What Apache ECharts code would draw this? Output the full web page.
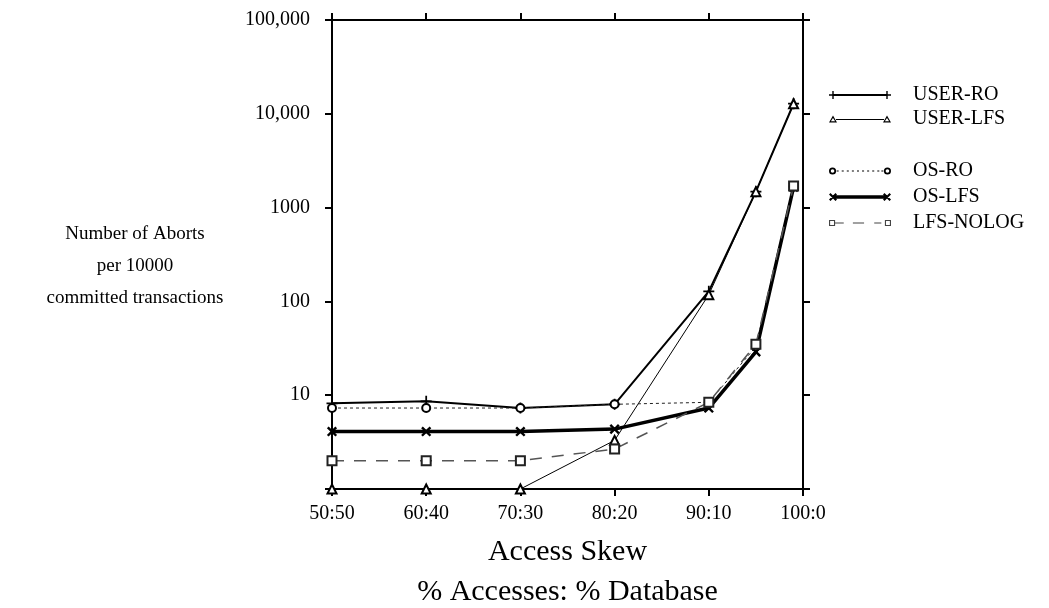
<!DOCTYPE html>
<html>
<head>
<meta charset="utf-8">
<script src="https://cdn.jsdelivr.net/npm/echarts@6/dist/echarts.min.js"></script>
<style>
html,body{margin:0;padding:0;background:#fff;overflow:hidden;}
#chart{width:1049px;height:608px;}
</style>
</head>
<body>
<div id="chart"></div>
<script>
// ---- data ----
var xValues = [50, 60, 70, 80, 90, 95, 99];
var xTickValues = [50, 60, 70, 80, 90, 100];
var xTickLabels = ['50:50', '60:40', '70:30', '80:20', '90:10', '100:0'];
var yTickValues = [1, 10, 100, 1000, 10000, 100000];
var yTickLabels = ['', '10', '100', '1000', '10,000', '100,000'];

var seriesNames = ['USER-RO', 'USER-LFS', 'OS-RO', 'OS-LFS', 'LFS-NOLOG'];
var userRO   = [8.2, 8.6, 7.3, 8.0, 128, 1480, 12800];
var userLFS  = [1, 1, 1, 3.3, 118, 1480, 12800];
var osRO     = [7.3, 7.3, 7.3, 8.0, 8.4, 33, 1670];
var osLFS    = [4.1, 4.1, 4.1, 4.35, 7.3, 29, 1650];
var lfsNolog = [2.0, 2.0, 2.0, 2.67, 8.4, 35, 1700];

var FONT = '"Liberation Serif", "Times New Roman", serif';
var PLUS = 'path://M4.2,0h1.6v4.2h4.2v1.6h-4.2v4.2h-1.6v-4.2h-4.2v-1.6h4.2z';
var PLUS_THICK = 'path://M4,0h2v4h4v2h-4v4h-2v-4h-4v-2h4z';

// legend icons (line sample with a marker at each end), 62 wide
var ICON_USER_RO = 'path://M4,4H58V6H4Z M0,4.3H8V5.7H0Z M3.3,1H4.7V9H3.3Z M54,4.3H62V5.7H54Z M57.3,1H58.7V9H57.3Z';
var ICON_USER_LFS = 'path://M7,4.5H55V5.5H7Z M4,1L8,8L0,8Z M4,3.4L1.9,6.8L6.1,6.8Z M58,1L62,8L54,8Z M58,3.4L55.9,6.8L60.1,6.8Z';
var ICON_OS_RO = 'path://M8,4.5H10V5.5H8Z M13,4.5H15V5.5H13Z M18,4.5H20V5.5H18Z M23,4.5H25V5.5H23Z M28,4.5H30V5.5H28Z M33,4.5H35V5.5H33Z M38,4.5H40V5.5H38Z M43,4.5H45V5.5H43Z M48,4.5H50V5.5H48Z M52,4.5H54V5.5H52Z ' +
  'M0.5,5A3.5,3.5 0 1,1 7.5,5A3.5,3.5 0 1,1 0.5,5Z M2.2,5A1.8,1.8 0 1,0 5.8,5A1.8,1.8 0 1,0 2.2,5Z ' +
  'M54.5,5A3.5,3.5 0 1,1 61.5,5A3.5,3.5 0 1,1 54.5,5Z M56.2,5A1.8,1.8 0 1,0 59.8,5A1.8,1.8 0 1,0 56.2,5Z';
var ICON_OS_LFS = 'path://M4,2.3H58V5.7H4Z M0,1.5L1.5,0L8,6.5L6.5,8Z M6.5,0L8,1.5L1.5,8L0,6.5Z M54,1.5L55.5,0L62,6.5L60.5,8Z M60.5,0L62,1.5L55.5,8L54,6.5Z';
var ICON_LFS_NOLOG = 'path://M0.5,2H6.5V8H0.5Z M1.6,3.1V6.9H5.4V3.1Z M6.5,4.4H15V5.6H6.5Z M24,4.4H35V5.6H24Z M45,4.4H52V5.6H45Z M55.5,2H61.5V8H55.5Z M56.6,3.1V6.9H60.4V3.1Z';
var legendIcons = [ICON_USER_RO, ICON_USER_LFS, ICON_OS_RO, ICON_OS_LFS, ICON_LFS_NOLOG];

function pts(arr) { return xValues.map(function (x, i) { return [x, arr[i]]; }); }
function labelFor(vals, labs) {
  return function (v) {
    for (var i = 0; i < vals.length; i++) if (Math.abs(vals[i] - v) < 1e-6 * Math.max(1, v)) return labs[i];
    return '';
  };
}
function legendData(from, to) {
  var out = [];
  for (var i = from; i < to; i++) out.push({name: seriesNames[i], icon: legendIcons[i], itemStyle: {color: i === 4 ? '#444' : '#000', borderWidth: 0}});
  return out;
}

var chart = echarts.init(document.getElementById('chart'), null, {renderer: 'canvas', width: 1049, height: 608});

var axisLine = {show: true, lineStyle: {color: '#000', width: 2}};
var axisTick = {show: true, inside: false, length: 7, lineStyle: {color: '#000', width: 2}};
var legendText = {fontFamily: FONT, fontSize: 20, color: '#000', lineHeight: 20, padding: [6, 0, 0, 17]};

var option = {
  backgroundColor: '#fff',
  animation: false,
  title: {
    text: 'Number of Aborts\nper 10000\ncommitted transactions',
    left: 135, top: 218, textAlign: 'center', padding: 0,
    textStyle: {fontFamily: FONT, fontSize: 19, fontWeight: 'normal', color: '#000', lineHeight: 32}
  },
  grid: {left: 332, right: 246, top: 20, bottom: 119, containLabel: false, outerBoundsMode: 'none'},
  legend: [
    {
      data: legendData(0, 2),
      orient: 'vertical', left: 829, top: 82, padding: 0,
      itemWidth: 62, itemHeight: 10, itemGap: -2,
      textStyle: legendText, selectedMode: false
    },
    {
      data: legendData(2, 5),
      orient: 'vertical', left: 829, top: 158, padding: 0,
      itemWidth: 62, itemHeight: 10, itemGap: 0,
      textStyle: legendText, selectedMode: false
    }
  ],
  xAxis: [
    {
      type: 'value', min: 50, max: 100, interval: 10, position: 'bottom',
      axisLine: axisLine, axisTick: axisTick, splitLine: {show: false},
      axisLabel: {formatter: labelFor(xTickValues, xTickLabels), fontFamily: FONT, fontSize: 20, color: '#000', margin: 15},
      name: 'Access Skew\n% Accesses: % Database',
      nameLocation: 'middle', nameGap: 43,
      nameTextStyle: {fontFamily: FONT, fontSize: 30, color: '#000', lineHeight: 40}
    },
    {
      type: 'value', min: 50, max: 100, interval: 10, position: 'top',
      axisLine: axisLine, axisTick: axisTick, splitLine: {show: false},
      axisLabel: {show: false}
    }
  ],
  yAxis: [
    {
      type: 'log', logBase: 10, min: 1, max: 100000, position: 'left',
      axisLine: axisLine, axisTick: axisTick, splitLine: {show: false}, minorTick: {show: false},
      axisLabel: {formatter: labelFor(yTickValues, yTickLabels), fontFamily: FONT, fontSize: 20, color: '#000', margin: 22}
    },
    {
      type: 'log', logBase: 10, min: 1, max: 100000, position: 'right',
      axisLine: axisLine, axisTick: axisTick, splitLine: {show: false},
      axisLabel: {show: false}
    }
  ],
  series: [
    {
      name: 'USER-RO', type: 'line', data: pts(userRO), clip: false,
      symbol: PLUS, symbolSize: 11,
      itemStyle: {color: '#000'}, lineStyle: {color: '#000', width: 2}
    },
    {
      name: 'USER-LFS', type: 'line', data: pts(userLFS), clip: false,
      symbol: 'emptyTriangle', symbolSize: 9,
      itemStyle: {color: '#000', borderWidth: 1.5}, lineStyle: {color: '#000', width: 1}
    },
    {
      name: 'OS-RO', type: 'line', data: pts(osRO), clip: false,
      symbol: 'emptyCircle', symbolSize: 8,
      itemStyle: {color: '#000', borderWidth: 1.8}, lineStyle: {color: '#222', width: 1, type: [3, 3]}
    },
    {
      name: 'OS-LFS', type: 'line', data: pts(osLFS), clip: false,
      symbol: PLUS_THICK, symbolSize: 12, symbolRotate: 45,
      itemStyle: {color: '#000'}, lineStyle: {color: '#000', width: 3.5}
    },
    {
      name: 'LFS-NOLOG', type: 'line', data: pts(lfsNolog), clip: false,
      symbol: 'emptyRect', symbolSize: 9,
      itemStyle: {color: '#222', borderWidth: 1.5}, lineStyle: {color: '#555', width: 1.5, type: [12, 10]}
    }
  ]
};
chart.setOption(option);
</script>
</body>
</html>
